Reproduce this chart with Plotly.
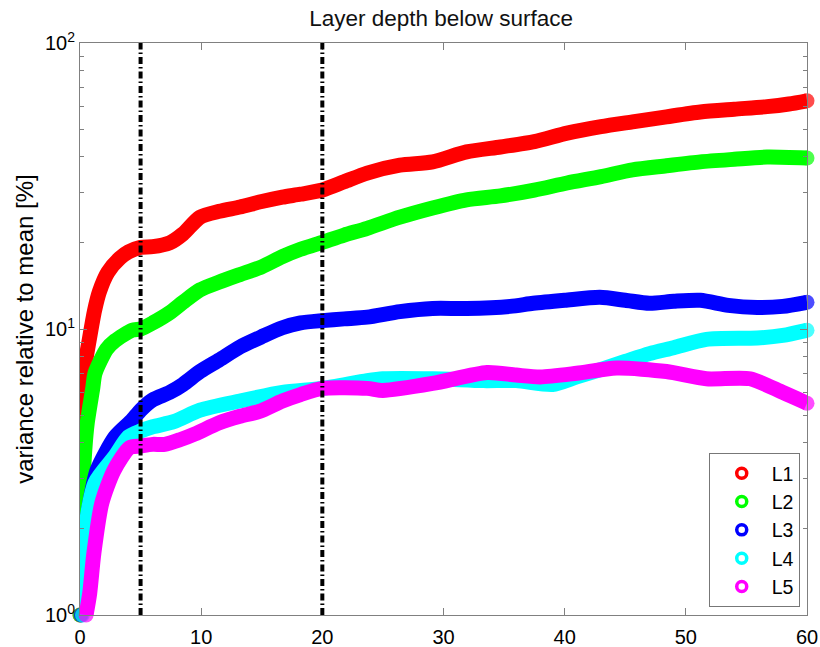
import plotly.graph_objects as go

# ---- data ----
names = ["L1", "L2", "L3", "L4", "L5"]
colors = ["#ff0000", "#00ff00", "#0000ff", "#00ffff", "#ff00ff"]

l1_x = [0, 0.17, 0.4, 0.75, 1.2, 1.6, 2.3, 3.3, 4.0, 5, 6, 7.4, 8.5, 9.9, 11.5, 13.2, 15, 16.7, 18.2, 20,
        21.8, 23.7, 26.4, 29.1, 31.9, 34.7, 37.5, 40.2, 43, 45.6, 48.4, 51.2, 54, 56.7, 58.5, 60]
l1_y = [1.0, 5.3, 7.4, 9.1, 11.6, 13.5, 15.8, 17.7, 18.6, 19.3, 19.4, 20.0, 21.5, 24.6, 25.8, 26.7, 27.9, 28.9, 29.6, 30.6,
        32.7, 35.1, 37.4, 38.4, 41.6, 43.3, 45.2, 48.4, 51.0, 53.0, 55.2, 57.4, 58.7, 59.9, 61.2, 62.8]

l2_x = [0, 0.05, 0.17, 0.4, 0.6, 1.05, 1.24, 2.2, 2.9, 4.3, 5, 6, 7.4, 8.5, 9.9, 11.5, 13.2, 15, 16.7, 18.2, 20,
        21.8, 23.7, 26.4, 29.1, 31.9, 34.7, 37.5, 40.2, 43, 45.6, 48.4, 51.2, 54, 56.7, 60]
l2_y = [1.0, 1.3, 2.4, 3.8, 4.7, 6.2, 7.0, 8.5, 9.1, 9.9, 10.0, 10.5, 11.4, 12.4, 13.7, 14.6, 15.5, 16.5, 17.9, 19.0, 20.1,
        21.3, 22.5, 24.6, 26.5, 28.3, 29.2, 30.6, 32.4, 34.1, 36.0, 37.2, 38.4, 39.2, 39.9, 39.6]

l3_x = [0.1, 0.27, 0.5, 0.8, 1.4, 2.9, 4.3, 5, 6, 7.4, 8.5, 9.9, 11.5, 13.2, 15, 16.7, 18.2, 20, 21.8, 23.7,
        26.4, 29.1, 31.9, 35.5, 37.4, 40, 42.9, 45, 47, 49, 51.2, 53.5, 55.9, 58, 60]
l3_y = [1.0, 1.45, 1.95, 2.45, 3.2, 4.2, 4.8, 5.2, 5.65, 6.0, 6.4, 7.1, 7.8, 8.65, 9.4, 10.1, 10.5, 10.7, 10.85, 11.0,
        11.5, 11.8, 11.8, 12.0, 12.3, 12.6, 12.9, 12.6, 12.3, 12.5, 12.6, 12.1, 11.9, 12.0, 12.4]

l4_x = [0.2, 0.4, 1.24, 2.9, 4.0, 5, 6, 7.8, 9.9, 13.2, 16.7, 20, 23.7, 25, 29.1, 33.3, 36, 39, 41, 42.9,
        45, 47, 49, 51.7, 55.9, 58, 60]
l4_y = [1.0, 1.9, 2.9, 3.6, 4.2, 4.4, 4.55, 4.75, 5.2, 5.6, 6.0, 6.2, 6.6, 6.7, 6.7, 6.6, 6.6, 6.4, 6.8, 7.2,
        7.7, 8.2, 8.6, 9.2, 9.3, 9.5, 9.9]

l5_x = [0.5, 0.8, 1.15, 1.8, 2.8, 4.1, 5, 6, 7, 8.25, 9.5, 11.5, 13.2, 14.8, 16.7, 18.2, 20, 23.7, 25, 29.1,
        33.6, 36, 38, 41, 44.3, 48.4, 51.7, 55.3, 58, 60]
l5_y = [1.0, 1.19, 1.65, 2.46, 3.2, 3.85, 3.9, 3.95, 3.95, 4.1, 4.3, 4.7, 4.95, 5.15, 5.6, 5.9, 6.2, 6.2, 6.1, 6.45,
        7.05, 6.9, 6.8, 7.0, 7.3, 7.1, 6.7, 6.7, 6.0, 5.5]

series_x = [l1_x, l2_x, l3_x, l4_x, l5_x]
series_y = [l1_y, l2_y, l3_y, l4_y, l5_y]

vline_x = [5, 20]

x_ticks = [0, 10, 20, 30, 40, 50, 60]
y_ticks = [1, 10, 100]
y_ticktext = ["10<sup>0</sup>", "10<sup>1</sup>", "10<sup>2</sup>"]

FONT = "Arial, Liberation Sans, Helvetica, sans-serif"
AX = "#808080"

fig = go.Figure()

for nm, col, xs, ys in zip(names, colors, series_x, series_y):
    sizes = [0] * len(xs)
    sizes[0] = 15
    sizes[-1] = 15
    fig.add_trace(go.Scatter(
        x=xs, y=ys, mode="lines+markers",
        line=dict(color=col, width=15, shape="spline", smoothing=0.7),
        marker=dict(color=col, size=sizes, line=dict(width=0)),
        cliponaxis=False, showlegend=False, hoverinfo="skip"))

for nm, col in zip(names, colors):
    fig.add_trace(go.Scatter(
        x=[None], y=[None], mode="markers", name=nm,
        marker=dict(symbol="circle", size=10, color="white",
                    line=dict(color=col, width=3.5))))

for vx in vline_x:
    fig.add_shape(type="line", xref="x", yref="paper", x0=vx, x1=vx, y0=0, y1=1,
                  line=dict(color="black", width=4, dash="7px,3px,1.5px,3px"), layer="above")

fig.update_layout(
    width=820, height=647,
    margin=dict(l=80, r=13, t=43, b=32, autoexpand=False),
    paper_bgcolor="white", plot_bgcolor="white",
    font=dict(family=FONT, size=20, color="black"),
    title=dict(text="Layer depth below surface", x=0.538, xanchor="center", yref="container",
               y=1 - 18 / 647, yanchor="middle", font=dict(size=22.5, family=FONT, color="#111")),
    legend=dict(x=0.99, xanchor="right", y=0.014, yanchor="bottom",
                bordercolor="#777", borderwidth=1, bgcolor="white",
                font=dict(size=19.5, family=FONT), itemwidth=50, indentation=2,
                tracegroupgap=0),
    showlegend=True,
)

fig.update_xaxes(range=[0, 60], tickvals=x_ticks, ticks="inside", ticklen=7, tickcolor=AX,
                 showline=True, linecolor=AX, linewidth=1, mirror="ticks", showgrid=False,
                 zeroline=False, tickfont=dict(size=20, family=FONT), ticklabelstandoff=4,
                 automargin=False)

fig.update_yaxes(type="log", range=[0, 2], tickvals=y_ticks, ticktext=y_ticktext,
                 ticks="inside", ticklen=7, tickcolor=AX,
                 minor=dict(ticks="inside", ticklen=4, tickcolor=AX, dtick="D1", showgrid=False),
                 showline=True, linecolor=AX, linewidth=1, mirror="ticks", showgrid=False,
                 zeroline=False, tickfont=dict(size=20, family=FONT), automargin=False,
                 title=dict(text="variance relative to mean [%]", font=dict(size=24, family=FONT),
                            standoff=4))

fig.write_html("out.html", config={"displayModeBar": False},
               post_script="document.body.style.margin='0';document.body.style.padding='0';")
